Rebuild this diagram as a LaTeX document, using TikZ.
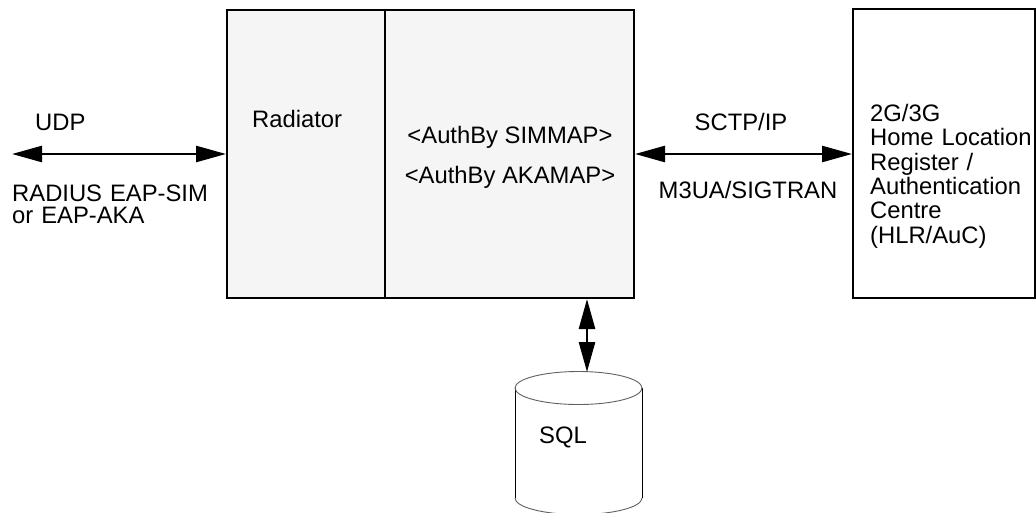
\documentclass[tikz,border=0pt]{standalone}
\usepackage{fontspec}
\setmainfont{Liberation Sans}
\usetikzlibrary{arrows.meta}
\definecolor{boxfill}{HTML}{F5F5F5}
\definecolor{cylgray}{HTML}{606060}
\begin{document}
\begin{tikzpicture}[x=1pt,y=-1pt,
  lbl/.style={inner sep=0pt, font=\fontsize{23.8}{24.3}\selectfont},
  partbox/.style={draw, line width=2pt, fill=boxfill, inner sep=0pt},
  hlrbox/.style={draw, line width=2pt, fill=white, inner sep=0pt},
  dbl/.style={line width=2.6pt, {Triangle[length=30pt,width=16pt]}-{Triangle[length=30pt,width=16pt]}},
  cylside/.style={line width=1pt, black},
  cylrim/.style={line width=0.9pt, cylgray}]
\useasboundingbox (0,0) rectangle (1036,512);
% main boxes
\node[partbox, minimum width=158pt, minimum height=288pt] (rad) at (306,154) {};
\node[partbox, minimum width=249pt, minimum height=288pt] (auth) at (509.5,154) {};
\node[hlrbox, minimum width=182pt, minimum height=289pt] (hlr) at (944,153.5) {};
% texts
\node[lbl, anchor=base west] (radtxt) at (252,127) {Radiator};
\node[lbl, anchor=base] (sim) at (510,143) {<AuthBy SIMMAP>};
\node[lbl, anchor=base] (aka) at (510,183) {<AuthBy AKAMAP>};
\node[lbl, anchor=base west, text width=166pt, align=left] (hlrtxt) at (870,121.5) {2G/3G\\Home Location\\Register /\\Authentication\\Centre\\(HLR/AuC)};
\node[lbl, anchor=base west] (udp) at (35,130) {UDP};
\node[lbl, anchor=base west, text width=205pt, align=left, font=\fontsize{23.8}{21.8}\selectfont] (radius) at (12,201.7) {RADIUS EAP-SIM\\or EAP-AKA};
\node[lbl, anchor=base] (sctp) at (741,130) {SCTP/IP};
\node[lbl, anchor=base] (m3ua) at (748,198) {M3UA/SIGTRAN};
% database cylinder
\draw[cylside] (515,388) -- (515,498);
\draw[cylside] (642,388) -- (642,498);
\draw[cylrim] (515,498) arc[start angle=180, end angle=0, x radius=63.5, y radius=16.5];
\draw[cylrim] (578.5,388) ellipse[x radius=63.5, y radius=16.5];
\node[lbl, anchor=base west] (sql) at (539,443) {SQL};
% connectors
\coordinate (udpend) at (12,154);
\coordinate (sqltop) at (587,372);
\draw[dbl] (udpend) -- (rad.west);
\draw[dbl] (auth.east) -- (hlr.west |- auth.east);
\draw[dbl] (auth.south -| sqltop) -- (sqltop);
\end{tikzpicture}
\end{document}
